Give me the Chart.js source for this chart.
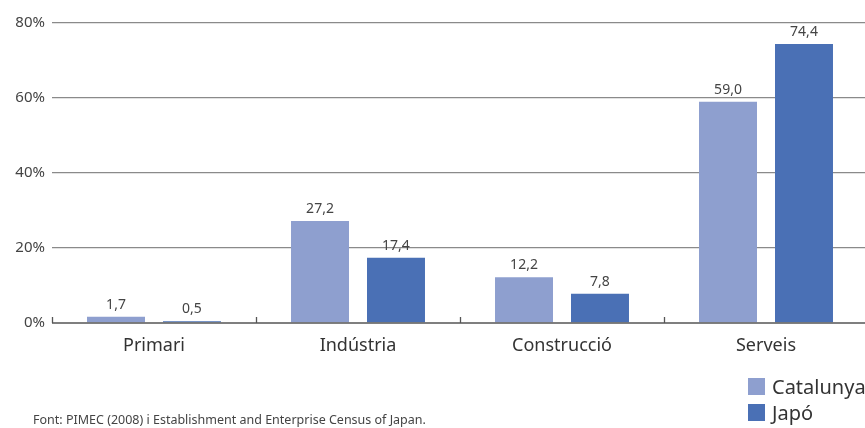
<!DOCTYPE html>
<html>
<head>
<meta charset="utf-8">
<script src="https://cdn.jsdelivr.net/npm/chart.js@4"></script>
<style>
    html, body { margin: 0; padding: 0; background: #fff; overflow: hidden; }
    #wrap { position: relative; width: 868px; height: 428px; }
    #chart { position: absolute; left: 0; top: 0; }
    .legend { position: absolute; left: 748px; font-family: "Noto Sans", "Open Sans", sans-serif; font-size: 20px; line-height: 24px; color: #333; white-space: nowrap; }
    .legend .box { display: inline-block; width: 17px; height: 17px; vertical-align: -1px; margin-right: 7px; }
    #source { position: absolute; left: 33px; top: 411px; font-family: "Noto Sans", "Open Sans", sans-serif; font-size: 12.5px; color: #444; }
</style>
</head>
<body>
<div id="wrap">
    <canvas id="chart" width="868" height="428"></canvas>
    <div id="legend"></div>
    <div id="source">Font: PIMEC (2008) i Establishment and Enterprise Census of Japan.</div>
</div>
<script>
const categories = ['Primari', 'Indústria', 'Construcció', 'Serveis'];
const catalunya = [1.7, 27.2, 12.2, 59.0];
const japo = [0.5, 17.4, 7.8, 74.4];
const seriesNames = ['Catalunya', 'Japó'];
const seriesColors = ['#8E9FCF', '#4A70B5'];
const yTicks = [0, 20, 40, 60, 80];

const fontFamily = '"Noto Sans", "Open Sans", sans-serif';

// etiquetes de valor sobre les barres
const valueLabels = {
    id: 'valueLabels',
    afterDatasetsDraw(chart) {
        const ctx = chart.ctx;
        ctx.save();
        ctx.font = '14px ' + fontFamily;
        ctx.fillStyle = '#444';
        ctx.textAlign = 'center';
        ctx.textBaseline = 'bottom';
        chart.data.datasets.forEach((ds, i) => {
            chart.getDatasetMeta(i).data.forEach((bar, j) => {
                ctx.fillText(ds.data[j].toFixed(1).replace('.', ','), bar.x, bar.y - 5);
            });
        });
        ctx.restore();
    }
};

// petites marques cap amunt entre categories
const catTicks = {
    id: 'catTicks',
    afterDatasetsDraw(chart) {
        const ctx = chart.ctx;
        const x = chart.scales.x;
        const bottom = chart.chartArea.bottom;
        ctx.save();
        ctx.strokeStyle = '#555';
        ctx.lineWidth = 1.3;
        ctx.beginPath();
        for (let i = 0; i <= categories.length; i++) {
            const px = Math.round(x.left + (x.right - x.left) * i / categories.length) + 0.5;
            ctx.moveTo(px, bottom - 6);
            ctx.lineTo(px, bottom);
        }
        ctx.moveTo(x.left, bottom);
        ctx.lineTo(x.right, bottom);
        ctx.stroke();
        ctx.restore();
    }
};

new Chart(document.getElementById('chart'), {
    type: 'bar',
    data: {
        labels: categories,
        datasets: [
            { label: seriesNames[0], data: catalunya, backgroundColor: seriesColors[0], borderWidth: 0, categoryPercentage: 0.745, barPercentage: 0.763 },
            { label: seriesNames[1], data: japo, backgroundColor: seriesColors[1], borderWidth: 0, categoryPercentage: 0.745, barPercentage: 0.763 },
        ],
    },
    options: {
        responsive: false,
        animation: false,
        layout: { padding: { top: 23, right: 0, bottom: 0, left: 0 } },
        plugins: {
            legend: { display: false },
            tooltip: { enabled: false },
        },
        scales: {
            x: {
                grid: { display: false, drawTicks: false },
                border: { display: false },
                ticks: { color: '#333', font: { family: fontFamily, size: 18 }, padding: 12 },
                afterFit: scale => { scale.height = 105; },
            },
            y: {
                min: 0,
                max: 80,
                afterBuildTicks: scale => { scale.ticks = yTicks.map(v => ({ value: v })); },
                grid: {
                    color: ctx => ctx.tick && ctx.tick.value === 0 ? 'rgba(0,0,0,0)' : '#8a8a8a',
                    lineWidth: 1.3,
                    drawTicks: false,
                },
                border: { display: false },
                ticks: {
                    color: '#444',
                    font: { family: fontFamily, size: 15 },
                    padding: 7,
                    callback: v => v + '%',
                },
                afterFit: scale => { scale.width = 52; },
            },
        },
    },
    plugins: [valueLabels, catTicks],
});

// llegenda
const legendEl = document.getElementById('legend');
seriesNames.forEach((name, i) => {
    const item = document.createElement('div');
    item.className = 'legend';
    item.style.top = (375 + i * 26) + 'px';
    const box = document.createElement('span');
    box.className = 'box';
    box.style.backgroundColor = seriesColors[i];
    item.appendChild(box);
    item.appendChild(document.createTextNode(name));
    legendEl.appendChild(item);
});
</script>
</body>
</html>
